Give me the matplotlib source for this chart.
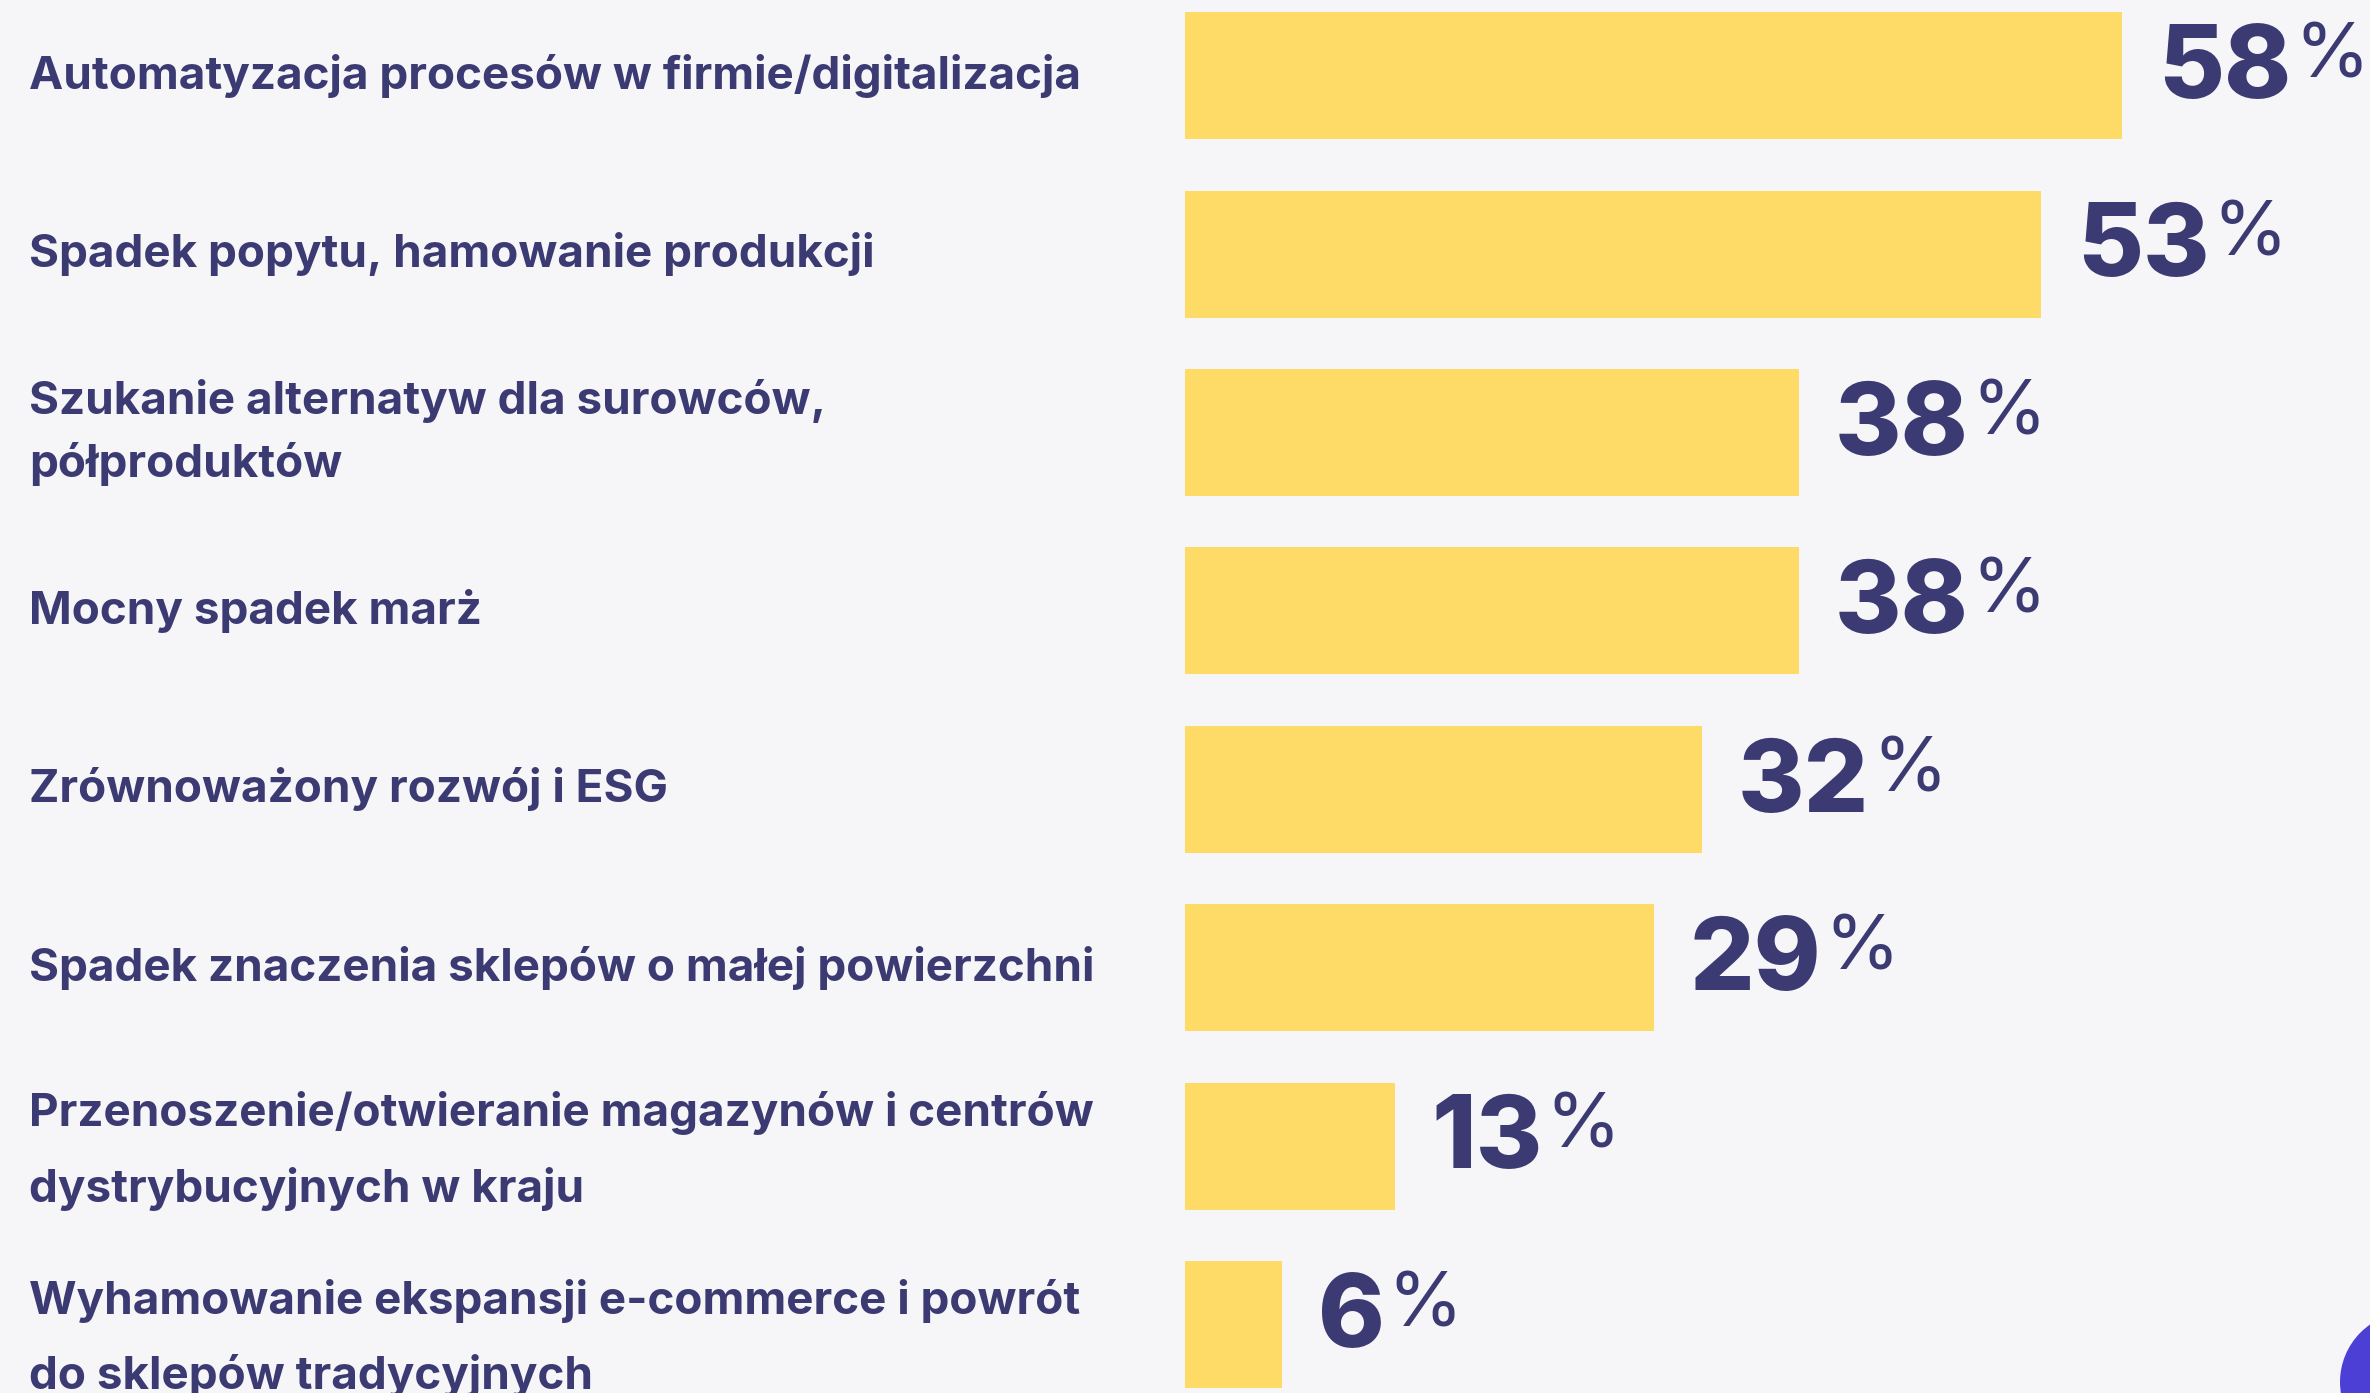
import matplotlib
matplotlib.use("Agg")
import matplotlib.pyplot as plt
import matplotlib.transforms as mtransforms
from matplotlib.patches import Circle

categories = [
    "Automatyzacja procesów w firmie/digitalizacja",
    "Spadek popytu, hamowanie produkcji",
    "Szukanie alternatyw dla surowców,\npółproduktów",
    "Mocny spadek marż",
    "Zrównoważony rozwój i ESG",
    "Spadek znaczenia sklepów o małej powierzchni",
    "Przenoszenie/otwieranie magazynów i centrów\ndystrybucyjnych w kraju",
    "Wyhamowanie ekspansji e-commerce i powrót\ndo sklepów tradycyjnych",
]
values = [58, 53, 38, 38, 32, 29, 13, 6]
line_gaps = [1.0, 1.0, 1.53, 1.0, 1.0, 1.0, 1.92, 1.88]
label_dy = [0.0, 0.0, 0.0, 0.0, 0.0, 0.0, 0.03, 0.08]

BG = "#F6F6F8"
BAR = "#FEDB66"
TXT = "#3B3A72"
FONT = "Inter"

W, H = 2370, 1393
fig = plt.figure(figsize=(W / 100, H / 100), dpi=100, facecolor=BG)

left_px = 1185
ax = fig.add_axes([left_px / W, 0, 1 - left_px / W, 1])
ax.set_facecolor(BG)
ax.axis("off")

pitch = 178.4
first = 75.6
ax.set_ylim((H - first) / pitch, -first / pitch)
ax.set_xlim(0, 58 * (W - left_px) / (2122 - left_px))

y = list(range(len(values)))
ax.barh(y, values, height=127 / pitch, color=BAR, edgecolor="none")

trans = mtransforms.blended_transform_factory(fig.transFigure, ax.transData)
for i, (cat, lg, dy) in enumerate(zip(categories, line_gaps, label_dy)):
    ax.text(29 / W, i + dy, cat, transform=trans, ha="left", va="center",
            fontsize=33, fontweight="bold", color=TXT, family=FONT,
            linespacing=lg)

for i, v in enumerate(values):
    num = ax.annotate(f"{v}", xy=(v, i), xytext=(26, 3), textcoords="offset points",
                      ha="left", va="center", fontsize=73, fontweight="heavy",
                      color=TXT, family=FONT)
    ax.annotate("%", xy=(1, 1), xycoords=num, xytext=(2, 1),
                textcoords="offset points", ha="left", va="top",
                fontsize=55, fontweight="normal", color=TXT, family=FONT)

circ = Circle((2410, 1393 - 1382), 70, transform=None, facecolor="#4B3FD6",
              edgecolor="none", clip_on=False)
fig.patches.append(circ)

fig.savefig("out.png", dpi=100, facecolor=BG)
